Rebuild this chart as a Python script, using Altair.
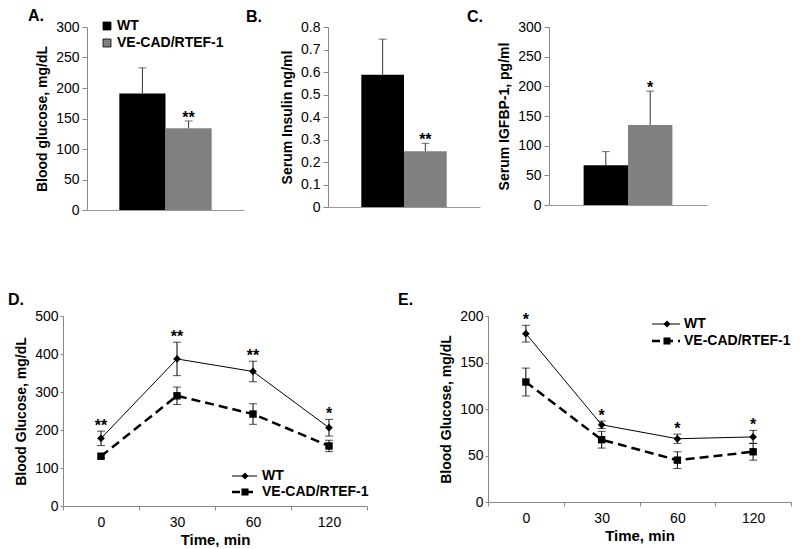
import altair as alt
import pandas as pd

FONT = "Liberation Sans"

# ---------------- data ----------------
groups = ["WT", "VE-CAD/RTEF-1"]
bar_colors = ["#000000", "#808080"]

a_vals = [191, 134]
a_errs = [42, 12]
a_stars = ["", "**"]

b_vals = [0.588, 0.248]
b_errs = [0.158, 0.035]
b_stars = ["", "**"]

c_vals = [67, 135]
c_errs = [23, 57]
c_stars = ["", "*"]

times = ["0", "30", "60", "120"]

d_wt = [178, 387, 354, 206]
d_wt_err = [19, 44, 27, 22]
d_ve = [131, 290, 242, 158]
d_ve_err = [5, 23, 27, 15]
d_stars = ["**", "**", "**", "*"]

e_wt = [181, 83, 68, 70]
e_wt_err = [9, 4, 5, 7]
e_ve = [129, 67, 45, 54]
e_ve_err = [15, 9, 9, 9]
e_stars = ["*", "*", "*", "*"]

A_TICKS = [0, 50, 100, 150, 200, 250, 300]
B_TICKS = [0, 0.1, 0.2, 0.3, 0.4, 0.5, 0.6, 0.7, 0.8]
C_TICKS = [0, 50, 100, 150, 200, 250, 300]
D_TICKS = [0, 100, 200, 300, 400, 500]
E_TICKS = [0, 50, 100, 150, 200]


def one():
    return alt.Chart(pd.DataFrame({"k": [0]}))


def bar_panel(letter, dx, vals, errs, stars, ytitle, ymax, yticks, width, height, outer, legend=None):
    df = pd.DataFrame({
        "group": groups,
        "val": vals,
        "top": [v + e for v, e in zip(vals, errs)],
        "star": stars,
    })
    x = alt.X("group:N", sort=groups,
              scale=alt.Scale(domain=groups, paddingInner=0, paddingOuter=outer),
              axis=alt.Axis(title=None, labels=False, ticks=False, domainColor="#999999"))
    yscale = alt.Scale(domain=[0, ymax], nice=False, zero=True)

    def Y(field):
        return alt.Y(field, scale=yscale, title=ytitle,
                     axis=alt.Axis(title=ytitle, values=yticks, format="~f", tickSize=5,
                                   labelPadding=3, titlePadding=6))

    base = alt.Chart(df)
    bars = base.mark_bar().encode(
        x=x, y=Y("val:Q"),
        color=alt.Color("group:N", scale=alt.Scale(domain=groups, range=bar_colors), legend=None),
    )
    rule = base.mark_rule(color="#333333", strokeWidth=1).encode(x=x, y=Y("val:Q"), y2="top:Q")
    cap = base.mark_tick(color="#333333", size=8, thickness=1).encode(x=x, y=Y("top:Q"))
    star = base.mark_text(font=FONT, fontSize=16, fontWeight="bold", baseline="alphabetic",
                          dy=2, color="black").encode(x=x, y=Y("top:Q"), text="star:N")
    layers = [bars, rule, cap, star]
    if legend is not None:
        sx, tx, y1, y2 = legend
        for g, col, yy in zip(groups, bar_colors, [y1, y2]):
            layers.append(one().mark_square(size=64, color=col, opacity=1, stroke="black",
                                             strokeWidth=0.8).encode(
                x=alt.value(sx), y=alt.value(yy)))
            layers.append(one().mark_text(font=FONT, fontSize=14, fontWeight="bold", align="left",
                                           baseline="middle", color="black").encode(
                x=alt.value(tx), y=alt.value(yy), text=alt.value(g)))
    return alt.layer(*layers).properties(
        width=width, height=height,
        title=alt.TitleParams(text=letter, dx=dx, offset=-5))


def line_panel(letter, dx, wt, wt_err, ve, ve_err, stars, ymax, yticks, width, height, leg):
    rows = []
    for i, t in enumerate(times):
        rows.append(dict(idx=i, time=t, series="WT", val=wt[i], lo=wt[i] - wt_err[i],
                         hi=wt[i] + wt_err[i], star=stars[i]))
        rows.append(dict(idx=i, time=t, series="VE", val=ve[i], lo=ve[i] - ve_err[i],
                         hi=ve[i] + ve_err[i], star=""))
    df = pd.DataFrame(rows)
    ytitle = "Blood Glucose, mg/dL"
    x = alt.X("time:N", sort=times,
              scale=alt.Scale(type="band", domain=times, paddingInner=0, paddingOuter=0),
              axis=alt.Axis(title="Time, min", labelAngle=0, tickBand="extent", tickSize=4,
                            labelPadding=5, titlePadding=3, titleFontSize=15))
    yscale = alt.Scale(domain=[0, ymax], nice=False)

    def Y(field):
        return alt.Y(field, scale=yscale, title=ytitle,
                     axis=alt.Axis(title=ytitle, values=yticks, format="~f", tickSize=3,
                                   labelPadding=2, titlePadding=6))

    base = alt.Chart(df)
    wt_b = base.transform_filter("datum.series == 'WT'")
    ve_b = base.transform_filter("datum.series == 'VE'")
    layers = [
        ve_b.mark_line(color="black", strokeWidth=2.5, strokeDash=[9, 5]).encode(
            x=x, y=Y("val:Q"), order="idx:Q"),
        wt_b.mark_line(color="black", strokeWidth=1).encode(x=x, y=Y("val:Q"), order="idx:Q"),
        base.mark_rule(color="black", strokeWidth=1).encode(x=x, y=Y("lo:Q"), y2="hi:Q"),
        base.mark_tick(color="black", size=8, thickness=1).encode(x=x, y=Y("lo:Q")),
        base.mark_tick(color="black", size=8, thickness=1).encode(x=x, y=Y("hi:Q")),
        wt_b.mark_point(shape="diamond", filled=True, size=60, color="black", opacity=1).encode(
            x=x, y=Y("val:Q")),
        ve_b.mark_square(size=55, color="black", opacity=1).encode(x=x, y=Y("val:Q")),
        wt_b.mark_text(font=FONT, fontSize=16, fontWeight="bold", baseline="alphabetic", dy=0,
                       color="black").encode(x=x, y=Y("hi:Q"), text="star:N"),
    ]
    x1, x2, xm, xt, yw, yv = leg
    layers += [
        one().mark_rule(color="black", strokeWidth=1).encode(
            x=alt.value(x1), x2=alt.value(x2), y=alt.value(yw)),
        one().mark_point(shape="diamond", filled=True, size=50, color="black", opacity=1).encode(
            x=alt.value(xm), y=alt.value(yw)),
        one().mark_text(font=FONT, fontSize=14, fontWeight="bold", align="left",
                        baseline="middle", color="black").encode(
            x=alt.value(xt), y=alt.value(yw), text=alt.value("WT")),
        one().mark_rule(color="black", strokeWidth=2.5, strokeDash=[8, 5]).encode(
            x=alt.value(x1), x2=alt.value(x2), y=alt.value(yv)),
        one().mark_square(size=50, color="black", opacity=1).encode(
            x=alt.value(xm), y=alt.value(yv)),
        one().mark_text(font=FONT, fontSize=14, fontWeight="bold", align="left",
                        baseline="middle", color="black").encode(
            x=alt.value(xt), y=alt.value(yv), text=alt.value("VE-CAD/RTEF-1")),
    ]
    return alt.layer(*layers).properties(
        width=width, height=height,
        title=alt.TitleParams(text=letter, dx=dx, offset=1))


def spacer(w):
    return one().mark_point(opacity=0, size=1).encode(
        x=alt.X("k:Q", axis=None), y=alt.Y("k:Q", axis=None)).properties(width=w, height=1)


A = bar_panel("A.", -59, a_vals, a_errs, a_stars, "Blood glucose, mg/dL", 300, A_TICKS,
              157, 183, 0.7, legend=(20, 30, -1, 16))
B = bar_panel("B.", -82, b_vals, b_errs, b_stars, "Serum Insulin ng/ml", 0.8, B_TICKS,
              152, 180, 0.78)
C = bar_panel("C.", -82, c_vals, c_errs, c_stars, "Serum IGFBP-1, pg/ml", 300, C_TICKS,
              158, 178, 0.78)

D = line_panel("D.", -55, d_wt, d_wt_err, d_ve, d_ve_err, d_stars, 500, D_TICKS, 304, 190,
               (169, 194, 182, 199, 160, 176))
E = line_panel("E.", -90, e_wt, e_wt_err, e_ve, e_ve_err, e_stars, 200, E_TICKS, 303, 186,
               (164, 192, 179, 196, 8, 25))

top = alt.hconcat(spacer(24), A, spacer(84), B, spacer(69), C, spacing=0, bounds="flush")
bottom = alt.hconcat(D, E, spacing=121, bounds="flush")

chart = alt.vconcat(top, bottom, spacing=75, padding=0).configure(
    font=FONT
).configure_view(
    strokeWidth=0
).configure_axis(
    labelFont=FONT, titleFont=FONT, labelFontSize=14, titleFontSize=14,
    titleFontWeight="bold", labelColor="black", titleColor="black",
    domainColor="#888888", tickColor="#888888", grid=False
).configure_title(
    font=FONT, fontSize=16, fontWeight="bold", anchor="start", frame="group", color="black"
)

chart.save("out.html", embed_options={"renderer": "svg", "actions": False})
